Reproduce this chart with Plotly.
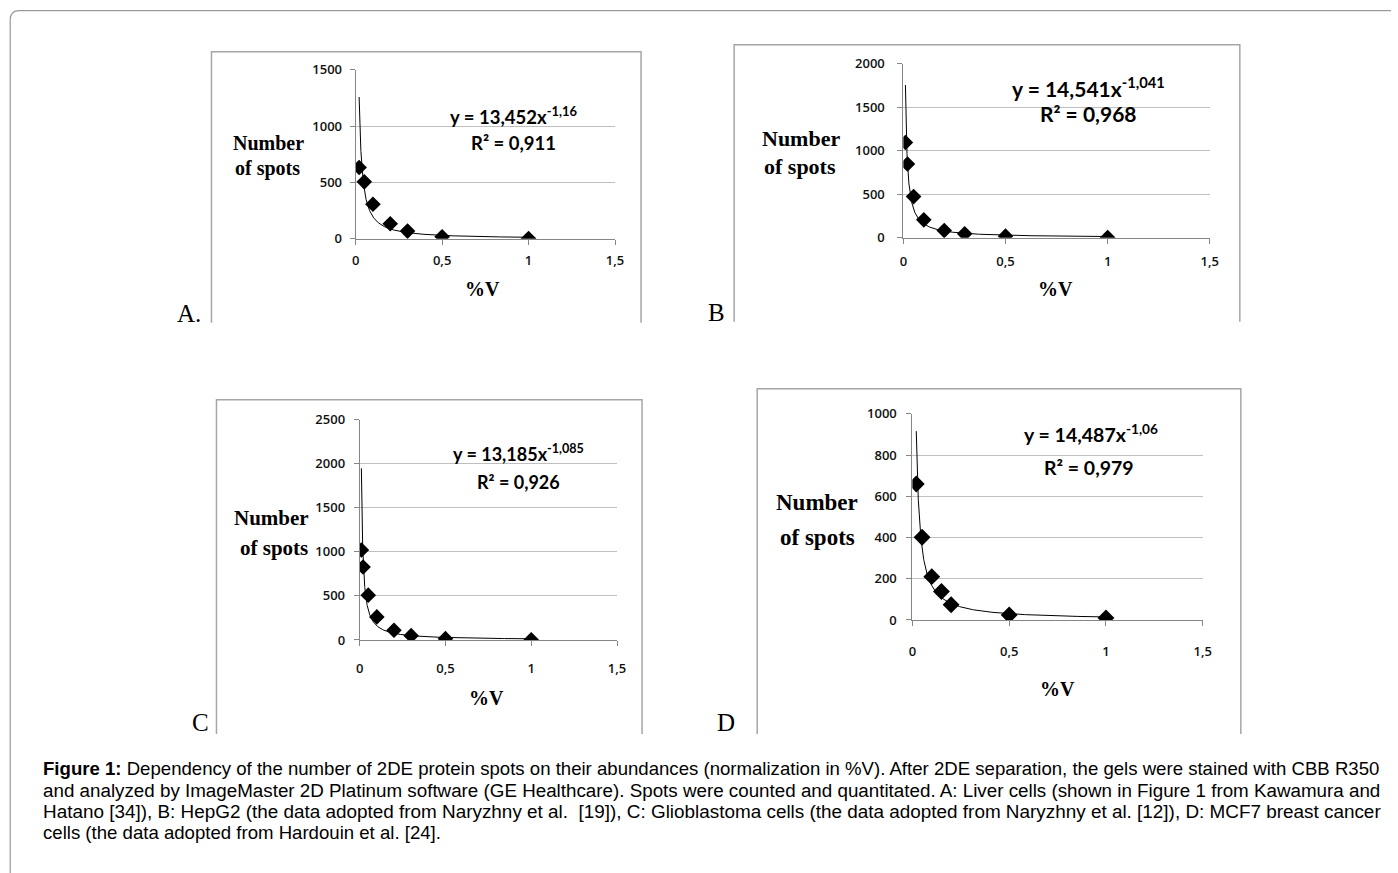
import plotly.graph_objects as go
import numpy as np

W, H = 1398, 873

# ---------------- data ----------------
pct_v_A = [0.02, 0.05, 0.10, 0.20, 0.30, 0.50, 1.00]
spots_A = [633, 505, 306, 134, 68, 18, 2]

pct_v_B = [0.01, 0.02, 0.05, 0.10, 0.20, 0.30, 0.50, 1.00]
spots_B = [1095, 847, 473, 206, 84, 46, 19, 4]

pct_v_C = [0.01, 0.02, 0.05, 0.10, 0.20, 0.30, 0.50, 1.00]
spots_C = [1022, 828, 509, 262, 110, 49, 15, 3]

pct_v_D = [0.02, 0.05, 0.10, 0.15, 0.20, 0.50, 1.00]
spots_D = [660, 401, 210, 138, 74, 24, 10]

# power-law trendline coefficients shown on each panel (y = a * x^b)
fit_a = [13.452, 14.541, 13.185, 14.487]
fit_b = [-1.16, -1.041, -1.085, -1.06]
fit_x_start = [0.02, 0.01, 0.01, 0.02]
fit_x_end = [1.0, 1.0, 1.0, 1.0]

eq_text = ["y = 13,452x<sup>-1,16</sup>", "y = 14,541x<sup>-1,041</sup>",
           "y = 13,185x<sup>-1,085</sup>", "y = 14,487x<sup>-1,06</sup>"]
r2_text = ["R² = 0,911", "R² = 0,968", "R² = 0,926", "R² = 0,979"]
panel_letters = ["A.", "B", "C", "D"]

x_tick_vals = [0, 0.5, 1, 1.5]
x_tick_text = ["0", "0,5", "1", "1,5"]
y_ranges = [[0, 1500], [0, 2000], [0, 2500], [0, 1000]]
y_ticks_A = [0, 500, 1000, 1500]
y_ticks_B = [0, 500, 1000, 1500, 2000]
y_ticks_C = [0, 500, 1000, 1500, 2000, 2500]
y_ticks_D = [0, 200, 400, 600, 800, 1000]

caption_lines = [
    "<b>Figure 1:</b> Dependency of the number of 2DE protein spots on their abundances (normalization in %V). After 2DE separation, the gels were stained with CBB R350",
    "and analyzed by ImageMaster 2D Platinum software (GE Healthcare). Spots were counted and quantitated. A: Liver cells (shown in Figure 1 from Kawamura and",
    "Hatano [34]), B: HepG2 (the data adopted from Naryzhny et al.  [19]), C: Glioblastoma cells (the data adopted from Naryzhny et al. [12]), D: MCF7 breast cancer",
    "cells (the data adopted from Hardouin et al. [24].",
]

# ---------------- layout helpers ----------------
# target pixel positions -> paper fractions (compensates the page placement seen in the photo)
SX, OX = 0.9894, 4.8
SY, OY = 0.979, 8.3

def px(x):
    return (x - OX) / SX / W

def py(y):
    return 1 - (y - OY) / SY / H

# plot areas in pixels: (x0, x1, y_top, y_bottom)
areas = [(356, 615, 69, 238), (903, 1209, 63, 237), (360, 617, 419, 639), (912, 1202, 413, 619)]
# panel frames: (left, right, top, bottom)
frames = [(212, 641, 51, 322), (734, 1239, 44, 321), (217, 642, 399, 733), (757, 1240, 388, 733)]
eq_pos = [(514, 115), (1088, 86), (519, 452), (1090, 433)]
r2_pos = [(514, 142), (1088, 113), (519, 481), (1088, 467)]
eq_size = [18.5, 21, 18, 19.5]
num_pos = [(269, 142), (801, 138), (272, 517), (817, 502)]
spots_pos = [(268, 168), (800, 166), (274, 547), (817, 537)]
lab_size = [20, 22, 21, 23]
pv_pos = [(483, 288), (1055, 288), (487, 697), (1057, 688)]
letter_pos = [(190, 313), (716, 312), (201, 722), (726, 722)]
marker_size = [12, 12, 12, 13]
x_standoff = [5, 7, 11, 14]
y_standoff = [5, 10, 6, 7]

xs = [pct_v_A, pct_v_B, pct_v_C, pct_v_D]
ys = [spots_A, spots_B, spots_C, spots_D]
yticks = [y_ticks_A, y_ticks_B, y_ticks_C, y_ticks_D]

fig = go.Figure()
annotations = []
shapes = []

tick_font = dict(family="Open Sans, Lato, sans-serif", size=13, color="#111111", weight=600)

for i in range(4):
    ax = "" if i == 0 else str(i + 1)
    x0, x1, yt, yb = areas[i]
    # trendline
    tx = np.geomspace(fit_x_start[i], fit_x_end[i], 300)
    ty = fit_a[i] * tx ** fit_b[i]
    fig.add_trace(go.Scatter(x=tx, y=ty, mode="lines", line=dict(color="black", width=1),
                             xaxis="x" + ax, yaxis="y" + ax, hoverinfo="skip"))
    fig.add_trace(go.Scatter(x=xs[i], y=ys[i], mode="markers",
                             marker=dict(symbol="diamond", size=marker_size[i], color="black"),
                             xaxis="x" + ax, yaxis="y" + ax))
    fig.layout["xaxis" + ax] = dict(
        domain=[px(x0), px(x1)], anchor="y" + ax, range=[0, 1.5],
        tickvals=x_tick_vals, ticktext=x_tick_text, ticks="outside", ticklen=5,
        tickcolor="#868686", showline=True, linecolor="#868686", linewidth=1,
        showgrid=False, zeroline=False, tickfont=tick_font, fixedrange=True,
        ticklabelstandoff=x_standoff[i])
    fig.layout["yaxis" + ax] = dict(
        domain=[py(yb), py(yt)], anchor="x" + ax, range=y_ranges[i],
        tickvals=yticks[i], ticktext=[str(v) for v in yticks[i]], ticks="outside", ticklen=5,
        tickcolor="#868686", showline=True, linecolor="#868686", linewidth=1,
        showgrid=True, gridcolor="#bfbfbf", gridwidth=1, zeroline=False,
        tickfont=tick_font, fixedrange=True, ticklabelstandoff=y_standoff[i])

    def ann(text, pos, size, family, bold=False):
        annotations.append(dict(
            text=("<b>%s</b>" % text) if bold else text, x=px(pos[0]), y=py(pos[1]),
            xref="paper", yref="paper", showarrow=False, xanchor="center", yanchor="middle",
            font=dict(family=family, size=size, color="black")))

    ann(eq_text[i], eq_pos[i], eq_size[i], "Lato, Open Sans, sans-serif", True)
    ann(r2_text[i], r2_pos[i], eq_size[i], "Lato, Open Sans, sans-serif", True)
    ann("Number", num_pos[i], lab_size[i], "Liberation Serif, Times New Roman, serif", True)
    ann("of spots", spots_pos[i], lab_size[i], "Liberation Serif, Times New Roman, serif", True)
    ann("%V", pv_pos[i], 20, "Liberation Serif, Times New Roman, serif", True)
    ann(panel_letters[i], letter_pos[i], 25, "Liberation Serif, Times New Roman, serif", False)

    l, r, t, b = frames[i]
    shapes.append(dict(type="path", xref="paper", yref="paper",
                       path="M %f,%f L %f,%f L %f,%f L %f,%f" % (px(l), py(b), px(l), py(t), px(r), py(t), px(r), py(b)),
                       line=dict(color="#a6a6a6", width=1.5)))

# outer rounded frame (left + top edges)
shapes.append(dict(type="path", xref="paper", yref="paper",
                   path="M %f,%f L %f,%f Q %f,%f %f,%f L %f,%f" % (
                       px(11), py(880), px(11), py(19), px(11), py(10), px(20), py(10), px(1390), py(10)),
                   line=dict(color="#9a9a9a", width=1.2)))

cap_y = [768, 789, 810, 831]
cap_size = [18.6, 18.8, 18.9, 18.6]
for k, line in enumerate(caption_lines):
    annotations.append(dict(text=line, x=px(42), y=py(cap_y[k]), xref="paper", yref="paper",
                            showarrow=False, xanchor="left", yanchor="middle",
                            font=dict(family="Liberation Sans, Arial, sans-serif", size=cap_size[k], color="black")))

fig.update_layout(width=W, height=H, margin=dict(l=0, r=0, t=0, b=0),
                  paper_bgcolor="white", plot_bgcolor="white", showlegend=False,
                  annotations=annotations, shapes=shapes)

fig.write_html("out.html", config={"displayModeBar": False},
               post_script="document.body.style.margin='0';document.body.style.overflow='hidden';")
